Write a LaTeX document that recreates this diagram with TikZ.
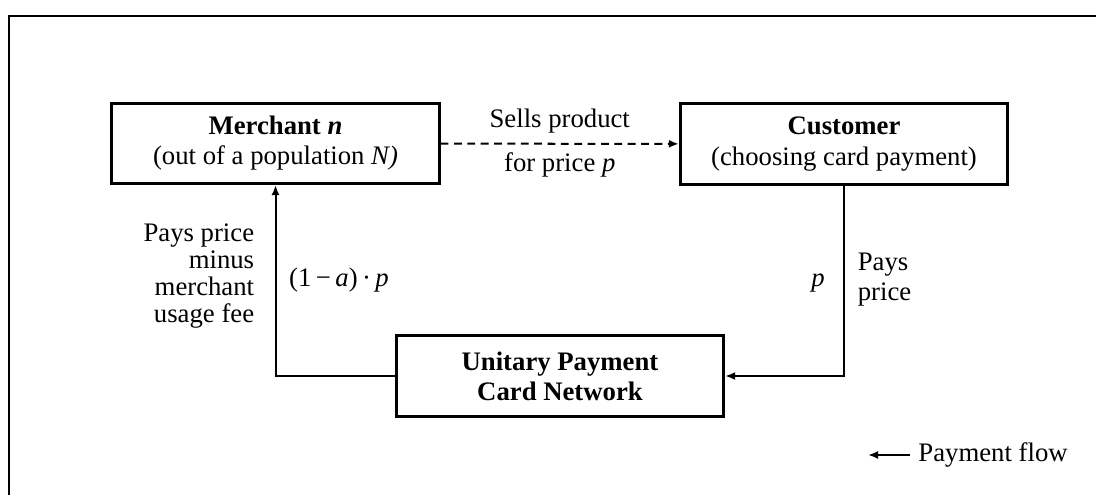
\documentclass[tikz,border=0pt]{standalone}
\usepackage{fontspec}
\setmainfont{Liberation Serif}
\usetikzlibrary{arrows.meta,positioning}

\begin{document}
\begin{tikzpicture}[x=0.449pt,y=-0.449pt,
  font=\fontsize{12pt}{14pt}\selectfont,
  >={Latex[length=4.5pt,width=3.6pt]},
  every node/.style={align=center},
  party/.style={draw,line width=1.3pt,minimum width=147pt,minimum height=36pt,
    font=\fontsize{12pt}{13.5pt}\selectfont},
  flow/.style={->,line width=0.9pt},
  sale/.style={->,line width=0.9pt,dash pattern=on 3.5pt off 2.5pt}]
\useasboundingbox (0,0) rectangle (1096,495);
\draw[line width=0.9pt] (9,495) -- (9,16) -- (1096,16);

% the three parties
\node[party] (merchant) at (275.5,143.5) {\textbf{Merchant \textit{n}}\\(out of a population \textit{N)}};
\node[party] (customer) at (844,144) {\textbf{Customer}\\(choosing card payment)};
\node[party] (network) at (560,376) {\textbf{Unitary Payment}\\\textbf{Card Network}};

% flows
\draw[sale] (merchant) -- node[above=1pt] {Sells product} node[below] {for price \textit{p}} (customer);
\draw[flow] (customer) |- (network);
\draw[flow] (network) -| (merchant);

% labels
\node[anchor=east,align=right,font=\fontsize{12pt}{12pt}\selectfont] (paysnet) at (262,276) {Pays price\\minus\\merchant\\usage fee};
\node (share) at (339,280) {(1\,−\,\textit{a})\,·\,\textit{p}};
\node (price) at (818,283) {\textit{p}};
\node[anchor=west,align=left,font=\fontsize{12pt}{13.5pt}\selectfont] (payscust) at (850,280) {Pays\\price};

% legend
\node[anchor=west,inner xsep=3.6pt] (legend) at (910,455) {Payment flow};
\coordinate (legtip) at (868,455);
\draw[flow] (legend.west) -- (legtip);
\end{tikzpicture}
\end{document}
